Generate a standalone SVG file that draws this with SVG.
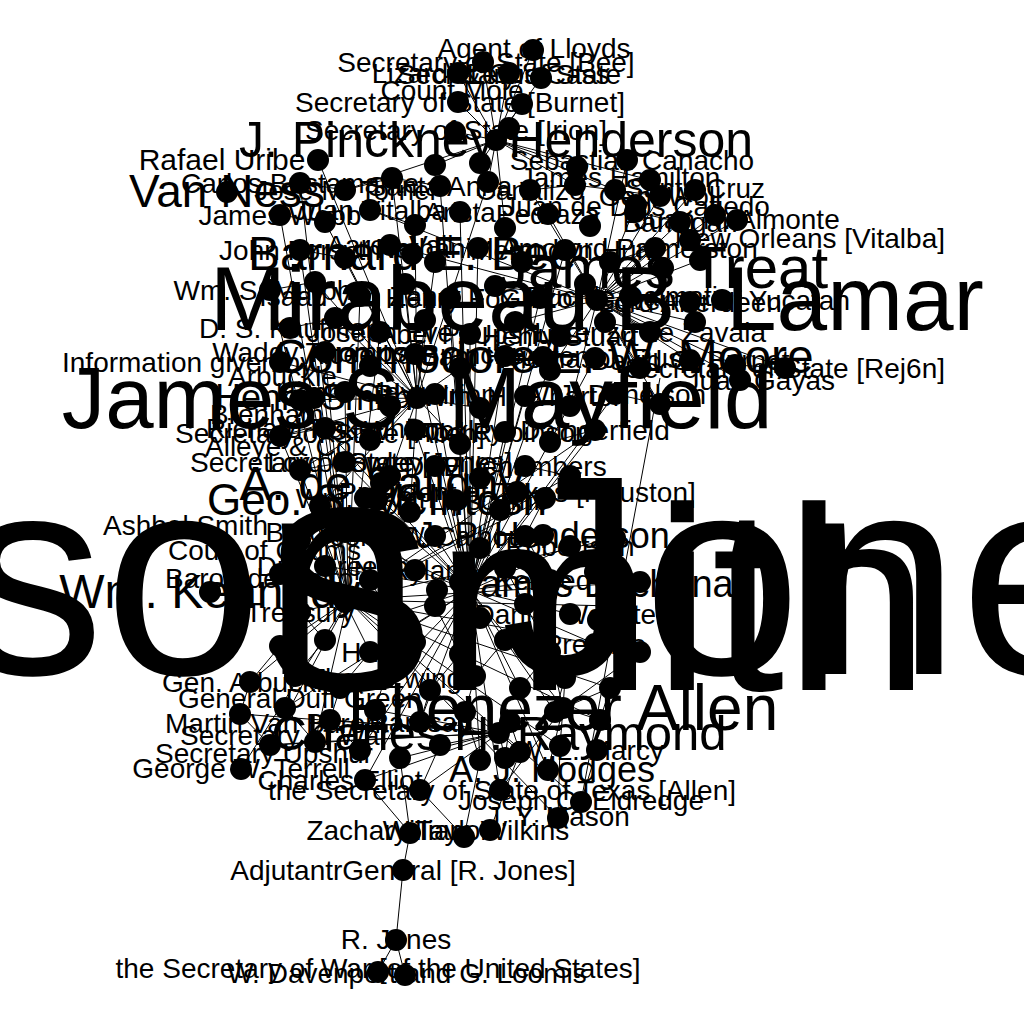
<svg xmlns="http://www.w3.org/2000/svg" width="1024" height="1024" viewBox="0 0 1024 1024">
<style>
text{font-family:"Liberation Sans",Arial,sans-serif;font-size:28px;text-anchor:middle;fill:#000}
.s{text-anchor:start}.e{text-anchor:end}
circle{fill:#000}
#edges path{fill:none;stroke:#000;stroke-width:1}
</style>
<rect width="1024" height="1024" fill="#fff"/>
<g id="edges"><path d="M470 590L440 186M470 590L460 212M470 590L478 248M470 590L565 250M470 590L450 298M470 590L540 298M470 590L470 334M470 590L560 336M470 590L415 354M470 590L505 356M470 590L595 358M470 590L435 394M470 590L525 396M470 590L615 394M470 590L325 428M470 590L415 430M470 590L505 432M470 590L595 430M470 590L345 462M470 590L435 466M470 590L525 466M470 590L365 498M470 590L455 500M470 590L345 532M470 590L435 536M470 590L570 546M470 590L325 566M470 590L415 570M470 590L550 580M470 590L390 616M470 590L480 618M470 590L570 614M470 590L370 652M470 590L595 644M470 590L385 678M470 590L520 688M470 590L285 708M470 590L420 722M470 590L555 712M470 590L360 750M470 590L480 760M470 590L597 750M470 590L365 780M470 590L500 790M470 590L548 770
M348 600L300 183M348 600L280 215M348 600L300 250M348 600L270 290M348 600L360 296M348 600L380 332M348 600L325 352M348 600L345 392M348 600L595 430M348 600L570 476M348 600L545 498M348 600L615 538M348 600L640 582M348 600L615 606M348 600L640 652M348 600L610 688M348 600L600 720M348 600L560 746M348 600L241 769M348 600L250 682M348 600L280 646M348 600L300 612M348 600L280 574M348 600L300 540M348 600L300 470M348 600L280 436M348 600L315 742M348 600L270 745M348 600L581 802M348 600L558 818
M597 300L530 190M597 300L660 196M597 300L370 210M597 300L548 214M597 300L680 222M597 300L390 245M597 300L495 286M597 300L515 322M597 300L605 322M597 300L695 322M597 300L550 370M597 300L640 368M597 300L735 365M597 300L785 368M597 300L695 190M597 300L636 205M597 300L737 220M597 300L627 160M597 300L570 406M597 300L660 404M597 300L715 215M597 300L700 260M597 300L655 248M597 300L630 296M597 300L690 302M597 300L650 332M597 300L690 360M597 300L740 380
M417 398L392 178M417 398L488 182M417 398L325 222M417 398L415 225M417 398L345 258M417 398L435 262M417 398L315 282M417 398L405 284M417 398L335 318M417 398L425 320M417 398L370 366M417 398L460 368M417 398L300 400M417 398L390 406M417 398L480 408M417 398L280 436M417 398L370 440M417 398L460 444M417 398L300 470M417 398L390 476M417 398L320 506M417 398L410 512M417 398L318 160M417 398L280 362
M496 140L533 50M496 140L483 62M496 140L458 73M496 140L509 73M496 140L541 78M496 140L458 102M496 140L522 104M496 140L455 132M496 140L509 128M496 140L435 165M496 140L480 163M496 140L577 167M496 140L650 180M496 140L488 182M496 140L575 185M496 140L615 190M496 140L505 228M496 140L345 190
M499 733L240 714M499 733L330 720M499 733L375 710M499 733L465 712M499 733L510 722M499 733L270 745M499 733L315 742M499 733L400 758M499 733L440 745M499 733L520 752M499 733L505 758M499 733L420 790M499 733L365 780
M563 708L565 678M563 708L555 712M563 708L600 720M563 708L560 746M563 708L597 750M563 708L550 652M563 708L640 652M563 708L610 688M563 708L548 770M563 708L500 790
M410 833L403 870L396 940L378 972M396 940L405 975M410 833L400 758M464 837L480 760M490 830L520 752M558 818L560 746M581 802L597 750M660 378L581 802M420 790L440 745M505 758L510 722M464 837L420 790M410 833L365 780
M250 682L240 714L270 745L315 742M285 708L315 742M330 720L360 750M295 676L285 708M340 688L330 720M385 678L375 710M430 690L420 722M475 676L465 712M565 678L555 712M610 688L600 720M465 712L480 760M510 722L520 752M280 646L250 682M325 640L295 676M370 652L340 688M415 642L385 678M460 654L430 690M505 640L475 676M550 652L520 688M300 612L325 640M345 602L370 652M435 606L460 654M525 604L550 652M280 574L300 612M370 580L390 616M460 582L480 618M505 568L525 604M595 572L615 606M300 540L325 566M390 546L415 570M480 548L505 568M525 536L550 580M320 506L300 540M410 512L390 546M500 510L480 548M545 498L525 536M300 183L345 190L392 178L440 186M530 190L575 185L615 190L660 196M280 215L325 222M370 210L415 225M635 212L680 222L715 215M300 250L345 258M390 245L435 262M610 262L655 248M270 290L315 282M585 284L630 296M290 328L335 318M605 322L650 332M735 365L785 368M300 400L345 392M615 394L660 404M280 436L325 428M550 442L595 430M300 470L345 462M525 466L570 476"/></g>
<g id="n-anson-jones"><circle cx="437" cy="590" r="11"/><text x="437" y="674" style="font-size:285px">Anson Jones</text></g>
<g id="n-smith"><circle cx="598" cy="620" r="11"/><text class="e" x="930" y="690" style="font-size:262px">Smith</text></g>
<g id="n-lamar"><circle cx="597" cy="300" r="11"/><text x="597" y="330" style="font-size:91px">Mirabeau B. Lamar</text></g>
<g id="n-mayfield"><circle cx="417" cy="398" r="11"/><text x="417" y="428" style="font-size:87px">James S. Mayfield</text></g>
<g id="n-pinckney"><circle cx="496" cy="140" r="11"/><text x="496" y="157" style="font-size:50px">J. Pinckney Henderson</text></g>
<g id="n-vanness"><circle cx="227" cy="192" r="11"/><text x="227" y="207" style="font-size:46px">Van Ness</text></g>
<g id="n-bee"><circle cx="412" cy="254" r="11"/><text x="412" y="270" style="font-size:48px">Barnard E. Bee</text></g>
<g id="n-treat"><circle cx="663" cy="268" r="11"/><text x="663" y="288" style="font-size:60px">James Treat</text></g>
<g id="n-moore"><circle cx="543" cy="357" r="11"/><text x="543" y="373" style="font-size:48px">Commodore E. W. Moore</text></g>
<g id="n-saligny"><circle cx="381" cy="483" r="11"/><text x="381" y="500" style="font-size:48px">A. de Saligny</text></g>
<g id="n-geo"><circle cx="377" cy="500" r="11"/><text x="377" y="515" style="font-size:44px">Geo. S. McIntosh</text></g>
<g id="n-raymond"><circle cx="499" cy="733" r="11"/><text x="499" y="750" style="font-size:49px">Charles H. Raymond</text></g>
<g id="n-allen"><circle cx="563" cy="708" r="11"/><text x="563" y="730" style="font-size:64px">Ebenezer Allen</text></g>
<g id="n-buchanan"><circle cx="608" cy="584" r="11"/><text x="608" y="597" style="font-size:38px">James Buchanan</text></g>
<g id="n-jph"><circle cx="543" cy="535" r="11"/><text x="543" y="548" style="font-size:36px">J. P. Henderson</text></g>
<g id="n-hodges"><circle cx="548" cy="770" r="11"/><text x="552" y="782" style="font-size:36px">A. J. Hodges</text></g>
<g id="n-houston"><circle cx="517" cy="492" r="11"/><text x="517" y="502">President of Texas [Houston]</text></g>
<g id="n-kennedy"><circle cx="210" cy="592" r="11"/><text x="210" y="608" style="font-size:48px">Wm. Kennedy</text></g>
<g id="n-henrysmith"><circle cx="314" cy="398" r="11"/><text class="s" x="215" y="410" style="font-size:36px">Henry Smith</text></g>
<g id="t1"><circle cx="533" cy="50" r="11"/><text x="534" y="58">Agent of Lloyds</text></g>
<g id="t2"><circle cx="483" cy="62" r="11"/><text x="486" y="72">Secretary of State [Bee]</text></g>
<g id="t3"><circle cx="458" cy="73" r="11"/><text x="452" y="83">Lizardi &amp; Co.</text></g>
<g id="t4"><circle cx="509" cy="73" r="11"/><text x="509" y="84">Secretary of State</text></g>
<g id="t5"><circle cx="541" cy="78" r="11"/><text x="538" y="84">Lewis Cass</text></g>
<g id="t6"><circle cx="458" cy="102" r="11"/><text x="460" y="112">Secretary of State [Burnet]</text></g>
<g id="t7"><circle cx="522" cy="104" r="11"/><text x="452" y="100">Count Molé</text></g>
<g id="t8"><circle cx="455" cy="132" r="11"/><text x="456" y="140">Secretary of State [Irion]</text></g>
<g id="t9"><circle cx="509" cy="128" r="11"/></g>
<g id="t10"><circle cx="318" cy="160" r="11"/><text x="222" y="170" style="font-size:30px">Rafael Uribe</text></g>
<g id="t11"><circle cx="435" cy="165" r="11"/></g>
<g id="t12"><circle cx="480" cy="163" r="11"/></g>
<g id="t13"><circle cx="627" cy="160" r="11"/><text x="632" y="170">Sebastian Canacho</text></g>
<g id="t14"><circle cx="577" cy="167" r="11"/></g>
<g id="t15"><circle cx="650" cy="180" r="11"/><text x="620" y="187">James Hamilton</text></g>
<g id="r1"><circle cx="695" cy="190" r="11"/><text x="695" y="198">Santa Cruz</text></g>
<g id="r2"><circle cx="636" cy="205" r="11"/><text x="636" y="216">Juan de Dios Cafiedo</text></g>
<g id="r3"><circle cx="737" cy="220" r="11"/><text x="737" y="229">Juan N. Almonte</text></g>
<g id="r4"><circle cx="690" cy="240" r="11"/><text class="e" x="945" y="248">New Orleans [Vitalba]</text></g>
<g id="r5"><circle cx="722" cy="300" r="11"/><text class="e" x="850" y="310">Governor of Yucatan</text></g>
<g id="r6"><circle cx="785" cy="368" r="11"/><text class="e" x="945" y="378">Secretary of State [Rej6n]</text></g>
<g id="r7"><circle cx="740" cy="380" r="11"/><text class="e" x="835" y="390">Juan Gayas</text></g>
<g id="l1"><text class="s" x="62" y="372">Information given by</text></g>
<g id="l2"><text class="s" x="228" y="386">Arbuckle</text></g>
<g id="l3"><text class="s" x="210" y="424">Brenham</text></g>
<g id="l4"><text class="s" x="175" y="443">Secretary of State [Allen]</text></g>
<g id="l5"><text class="s" x="205" y="456">Alleye &amp; Co.</text></g>
<g id="l6"><text class="s" x="190" y="472">Secretary of State [Jones]</text></g>
<g id="l7"><text class="s" x="103" y="535">Ashbel Smith</text></g>
<g id="l8"><text class="s" x="168" y="560">Court of Claims</text></g>
<g id="l9"><text class="s" x="165" y="588">Baron de Cetto</text></g>
<g id="l10"><text class="s" x="178" y="708">General Duff Green</text></g>
<g id="l11"><text class="s" x="165" y="733">Martin Van Buren</text></g>
<g id="l12"><text class="s" x="180" y="745">Secretary of War</text></g>
<g id="l13"><text class="s" x="155" y="763">Secretary Upshur</text></g>
<g id="c1"><circle cx="300" cy="183" r="11"/><text x="300" y="193">Carlos Bustamante</text></g>
<g id="c2"><circle cx="345" cy="190" r="11"/><text x="345" y="200">Jose M. Tornel</text></g>
<g id="c3"><circle cx="392" cy="178" r="11"/></g>
<g id="c4"><circle cx="440" cy="186" r="11"/><text x="440" y="196">Santa Anna</text></g>
<g id="c5"><circle cx="488" cy="182" r="11"/></g>
<g id="c6"><circle cx="530" cy="190" r="11"/><text x="530" y="200">Canalizo</text></g>
<g id="c7"><circle cx="575" cy="185" r="11"/></g>
<g id="c8"><circle cx="615" cy="190" r="11"/></g>
<g id="c9"><circle cx="660" cy="196" r="11"/><text x="660" y="206">Gen. Woll</text></g>
<g id="c10"><circle cx="280" cy="215" r="11"/><text x="280" y="225">James Webb</text></g>
<g id="c11"><circle cx="325" cy="222" r="11"/></g>
<g id="c12"><circle cx="370" cy="210" r="11"/><text x="370" y="220">Juan Vitalba</text></g>
<g id="c13"><circle cx="415" cy="225" r="11"/></g>
<g id="c14"><circle cx="460" cy="212" r="11"/><text x="460" y="222">Arista</text></g>
<g id="c15"><circle cx="505" cy="228" r="11"/></g>
<g id="c16"><circle cx="548" cy="214" r="11"/><text x="548" y="224">Pedraza</text></g>
<g id="c17"><circle cx="590" cy="226" r="11"/></g>
<g id="c18"><circle cx="635" cy="212" r="11"/></g>
<g id="c19"><circle cx="680" cy="222" r="11"/><text x="680" y="232">Barragan</text></g>
<g id="c20"><circle cx="715" cy="215" r="11"/></g>
<g id="c21"><circle cx="300" cy="250" r="11"/><text x="300" y="260">John Forsyth</text></g>
<g id="c22"><circle cx="345" cy="258" r="11"/></g>
<g id="c23"><circle cx="390" cy="245" r="11"/><text x="390" y="255">Aaron Vail</text></g>
<g id="c24"><circle cx="435" cy="262" r="11"/></g>
<g id="c25"><circle cx="478" cy="248" r="11"/><text x="478" y="258">Nathaniel Amory</text></g>
<g id="c26"><circle cx="522" cy="262" r="11"/></g>
<g id="c27"><circle cx="565" cy="250" r="11"/><text x="565" y="260">Memucan Hunt</text></g>
<g id="c28"><circle cx="610" cy="262" r="11"/></g>
<g id="c29"><circle cx="655" cy="248" r="11"/><text x="655" y="258">Lord Palmerston</text></g>
<g id="c30"><circle cx="700" cy="260" r="11"/></g>
<g id="c31"><circle cx="270" cy="290" r="11"/><text x="270" y="300">Wm. S. Murphy</text></g>
<g id="c32"><circle cx="315" cy="282" r="11"/></g>
<g id="c33"><circle cx="360" cy="296" r="11"/><text x="360" y="306">Isaac Van Zandt</text></g>
<g id="c34"><circle cx="405" cy="284" r="11"/></g>
<g id="c35"><circle cx="450" cy="298" r="11"/><text x="450" y="308">Henry Fox</text></g>
<g id="c36"><circle cx="495" cy="286" r="11"/></g>
<g id="c37"><circle cx="540" cy="298" r="11"/><text x="540" y="308">Guizot</text></g>
<g id="c38"><circle cx="585" cy="284" r="11"/></g>
<g id="c39"><circle cx="630" cy="296" r="11"/><text x="630" y="306">Duc de Dalmatie</text></g>
<g id="c40"><circle cx="690" cy="302" r="11"/><text x="690" y="312">Lord Aberdeen</text></g>
<g id="c41"><circle cx="290" cy="328" r="11"/><text x="290" y="338">D. S. Kaufman</text></g>
<g id="c42"><circle cx="335" cy="318" r="11"/></g>
<g id="c43"><circle cx="380" cy="332" r="11"/><text x="380" y="342">Joseph Eve</text></g>
<g id="c44"><circle cx="425" cy="320" r="11"/></g>
<g id="c45"><circle cx="470" cy="334" r="11"/><text x="470" y="344">Abel P. Upshur</text></g>
<g id="c46"><circle cx="515" cy="322" r="11"/></g>
<g id="c47"><circle cx="560" cy="336" r="11"/><text x="560" y="346">Henry Stuart</text></g>
<g id="c48"><circle cx="605" cy="322" r="11"/></g>
<g id="c49"><circle cx="650" cy="332" r="11"/><text x="650" y="342">Lorenzo de Zavala</text></g>
<g id="c50"><circle cx="695" cy="322" r="11"/></g>
<g id="c51"><circle cx="280" cy="362" r="11"/></g>
<g id="c52"><circle cx="325" cy="352" r="11"/><text x="325" y="362">Waddy Thompson</text></g>
<g id="c53"><circle cx="370" cy="366" r="11"/></g>
<g id="c54"><circle cx="415" cy="354" r="11"/><text x="415" y="364">Alcée La Branche</text></g>
<g id="c55"><circle cx="460" cy="368" r="11"/></g>
<g id="c56"><circle cx="505" cy="356" r="11"/><text x="505" y="366">Sam Houston</text></g>
<g id="c57"><circle cx="550" cy="370" r="11"/></g>
<g id="c58"><circle cx="595" cy="358" r="11"/><text x="595" y="368">Thomas J. Rusk</text></g>
<g id="c59"><circle cx="640" cy="368" r="11"/></g>
<g id="c60"><circle cx="690" cy="360" r="11"/><text x="690" y="370">David G. Burnet</text></g>
<g id="c61"><circle cx="735" cy="365" r="11"/></g>
<g id="c63"><circle cx="300" cy="400" r="11"/></g>
<g id="c64"><circle cx="345" cy="392" r="11"/><text x="345" y="402">Henry Clay</text></g>
<g id="c65"><circle cx="390" cy="406" r="11"/></g>
<g id="c66"><circle cx="435" cy="394" r="11"/><text x="435" y="404">R. A. Irion</text></g>
<g id="c67"><circle cx="480" cy="408" r="11"/></g>
<g id="c68"><circle cx="525" cy="396" r="11"/><text x="525" y="406">Wm. H. Wharton</text></g>
<g id="c69"><circle cx="570" cy="406" r="11"/></g>
<g id="c70"><circle cx="615" cy="394" r="11"/><text x="615" y="404">A. J. Donelson</text></g>
<g id="c71"><circle cx="660" cy="404" r="11"/></g>
<g id="c72"><circle cx="280" cy="436" r="11"/></g>
<g id="c73"><circle cx="325" cy="428" r="11"/><text x="325" y="438">Richard Pakenham</text></g>
<g id="c74"><circle cx="370" cy="440" r="11"/></g>
<g id="c75"><circle cx="415" cy="430" r="11"/><text x="415" y="440">G. W. Hockley</text></g>
<g id="c76"><circle cx="460" cy="444" r="11"/></g>
<g id="c77"><circle cx="505" cy="432" r="11"/><text x="505" y="442">Tod Robinson</text></g>
<g id="c78"><circle cx="550" cy="442" r="11"/></g>
<g id="c79"><circle cx="595" cy="430" r="11"/><text x="595" y="440">Daingerfield</text></g>
<g id="c80"><circle cx="300" cy="470" r="11"/></g>
<g id="c81"><circle cx="345" cy="462" r="11"/><text x="345" y="472">Lord Cowley</text></g>
<g id="c82"><circle cx="390" cy="476" r="11"/></g>
<g id="c83"><circle cx="435" cy="466" r="11"/><text x="435" y="476">W. D. Miller</text></g>
<g id="c84"><circle cx="480" cy="478" r="11"/></g>
<g id="c85"><circle cx="525" cy="466" r="11"/><text x="525" y="476">E. Chambers</text></g>
<g id="c86"><circle cx="570" cy="476" r="11"/></g>
<g id="c87"><circle cx="320" cy="506" r="11"/></g>
<g id="c88"><circle cx="365" cy="498" r="11"/><text x="365" y="508">Wm. Bryan</text></g>
<g id="c89"><circle cx="410" cy="512" r="11"/></g>
<g id="c90"><circle cx="455" cy="500" r="11"/><text x="455" y="510">A. S. Lipscomb</text></g>
<g id="c91"><circle cx="500" cy="510" r="11"/></g>
<g id="c92"><circle cx="545" cy="498" r="11"/></g>
<g id="c93"><circle cx="300" cy="540" r="11"/></g>
<g id="c94"><circle cx="345" cy="532" r="11"/><text x="345" y="542">Baron Bülow</text></g>
<g id="c95"><circle cx="390" cy="546" r="11"/></g>
<g id="c96"><circle cx="435" cy="536" r="11"/><text x="435" y="546">John C. Calhoun</text></g>
<g id="c97"><circle cx="480" cy="548" r="11"/></g>
<g id="c98"><circle cx="525" cy="536" r="11"/></g>
<g id="c99"><circle cx="570" cy="546" r="11"/><text x="570" y="556">Robertson</text></g>
<g id="c100"><circle cx="615" cy="538" r="11"/></g>
<g id="c101"><circle cx="280" cy="574" r="11"/></g>
<g id="c102"><circle cx="325" cy="566" r="11"/><text x="325" y="576">Duff Green</text></g>
<g id="c103"><circle cx="370" cy="580" r="11"/></g>
<g id="c104"><circle cx="415" cy="570" r="11"/><text x="415" y="580">N. Ryland</text></g>
<g id="c105"><circle cx="460" cy="582" r="11"/></g>
<g id="c106"><circle cx="505" cy="568" r="11"/></g>
<g id="c107"><circle cx="550" cy="580" r="11"/><text x="550" y="590">Kennedy</text></g>
<g id="c108"><circle cx="595" cy="572" r="11"/></g>
<g id="c109"><circle cx="640" cy="582" r="11"/></g>
<g id="c110"><circle cx="300" cy="612" r="11"/><text x="300" y="622">Treasury</text></g>
<g id="c111"><circle cx="345" cy="602" r="11"/></g>
<g id="c112"><circle cx="390" cy="616" r="11"/></g>
<g id="c113"><circle cx="435" cy="606" r="11"/></g>
<g id="c114"><circle cx="480" cy="618" r="11"/></g>
<g id="c115"><circle cx="525" cy="604" r="11"/></g>
<g id="c116"><circle cx="570" cy="614" r="11"/><text x="570" y="624">Daniel Webster</text></g>
<g id="c117"><circle cx="615" cy="606" r="11"/></g>
<g id="c118"><circle cx="280" cy="646" r="11"/></g>
<g id="c119"><circle cx="325" cy="640" r="11"/></g>
<g id="c120"><circle cx="370" cy="652" r="11"/><text x="370" y="662">Hale</text></g>
<g id="c121"><circle cx="415" cy="642" r="11"/></g>
<g id="c122"><circle cx="460" cy="654" r="11"/></g>
<g id="c123"><circle cx="505" cy="640" r="11"/></g>
<g id="c124"><circle cx="550" cy="652" r="11"/></g>
<g id="c125"><circle cx="595" cy="644" r="11"/><text x="595" y="654">Prentice</text></g>
<g id="c126"><circle cx="640" cy="652" r="11"/></g>
<g id="c127"><circle cx="250" cy="682" r="11"/><text x="250" y="692">Gen. Arbuckle</text></g>
<g id="c128"><circle cx="295" cy="676" r="11"/></g>
<g id="c129"><circle cx="340" cy="688" r="11"/></g>
<g id="c130"><circle cx="385" cy="678" r="11"/><text x="385" y="688">Thos. Ewing</text></g>
<g id="c131"><circle cx="430" cy="690" r="11"/></g>
<g id="c132"><circle cx="475" cy="676" r="11"/></g>
<g id="c133"><circle cx="520" cy="688" r="11"/></g>
<g id="c134"><circle cx="565" cy="678" r="11"/></g>
<g id="c135"><circle cx="610" cy="688" r="11"/></g>
<g id="c136"><circle cx="240" cy="714" r="11"/></g>
<g id="c137"><circle cx="285" cy="708" r="11"/></g>
<g id="c138"><circle cx="330" cy="720" r="11"/></g>
<g id="c139"><circle cx="375" cy="710" r="11"/></g>
<g id="c140"><circle cx="420" cy="722" r="11"/><text x="420" y="732">Ramsay</text></g>
<g id="c141"><circle cx="465" cy="712" r="11"/></g>
<g id="c142"><circle cx="510" cy="722" r="11"/></g>
<g id="c143"><circle cx="555" cy="712" r="11"/></g>
<g id="c144"><circle cx="600" cy="720" r="11"/></g>
<g id="c145"><circle cx="270" cy="745" r="11"/></g>
<g id="c146"><circle cx="315" cy="742" r="11"/></g>
<g id="c147"><circle cx="360" cy="750" r="11"/></g>
<g id="c148"><circle cx="400" cy="758" r="11"/></g>
<g id="c149"><circle cx="440" cy="745" r="11"/></g>
<g id="c150"><circle cx="480" cy="760" r="11"/></g>
<g id="c151"><circle cx="520" cy="752" r="11"/></g>
<g id="c152"><circle cx="560" cy="746" r="11"/></g>
<g id="c153"><circle cx="597" cy="750" r="11"/><text x="590" y="760">W. L. Marcy</text></g>
<g id="c154"><circle cx="241" cy="769" r="11"/><text x="241" y="778">George W. Terrell</text></g>
<g id="c155"><circle cx="365" cy="780" r="11"/><text x="340" y="790">Charles Elliot</text></g>
<g id="c156"><circle cx="420" cy="790" r="11"/></g>
<g id="c157"><circle cx="500" cy="790" r="11"/><text x="502" y="800">the Secretary of State of Texas [Allen]</text></g>
<g id="c158"><circle cx="505" cy="758" r="11"/></g>
<g id="c160"><circle cx="581" cy="802" r="11"/><text x="581" y="810">Joseph C. Eldredge</text></g>
<g id="c161"><circle cx="558" cy="818" r="11"/><text x="558" y="826">J. Y. Mason</text></g>
<g id="c162"><circle cx="410" cy="833" r="11"/><text x="398" y="840">Zachary Taylor</text></g>
<g id="c163"><circle cx="464" cy="837" r="11"/></g>
<g id="c164"><circle cx="490" cy="830" r="11"/><text x="476" y="840">William Wilkins</text></g>
<g id="c165"><circle cx="403" cy="870" r="11"/><text x="403" y="880">AdjutantrGeneral [R. Jones]</text></g>
<g id="c166"><circle cx="396" cy="940" r="11"/><text x="396" y="949">R. Jones</text></g>
<g id="c167"><circle cx="378" cy="972" r="11"/><text x="378" y="978">the Secretary of War [of the United States]</text></g>
<g id="c168"><circle cx="405" cy="975" r="11"/><text x="407" y="983">W. Davenport and G. Loomis</text></g>
</svg>
